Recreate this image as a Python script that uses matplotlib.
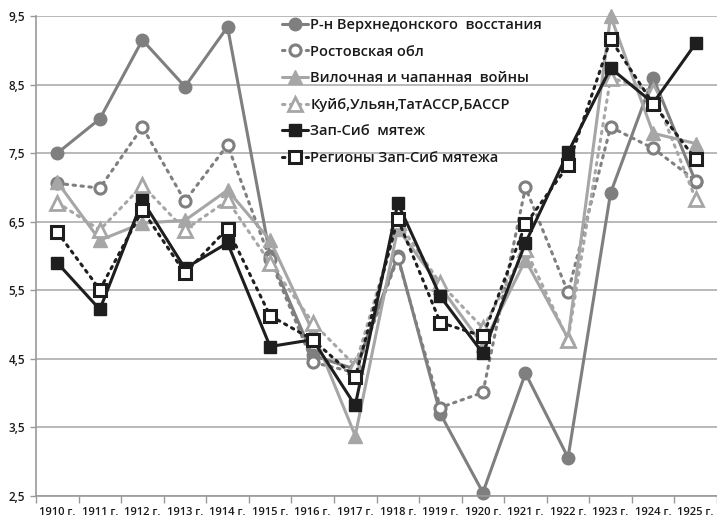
import matplotlib
matplotlib.use("Agg")
import matplotlib.pyplot as plt
import numpy as np

plt.rcParams["font.family"] = ["Open Sans", "DejaVu Sans"]
plt.rcParams["font.weight"] = "semibold"

years = ["1910 г.", "1911 г.", "1912 г.", "1913 г.", "1914 г.", "1915 г.", "1916 г.", "1917 г.",
         "1918 г.", "1919 г.", "1920 г.", "1921 г.", "1922 г.", "1923 г.", "1924 г.", "1925 г."]

verkhnedon = [7.5, 8.0, 9.15, 8.47, 9.34, 6.0, 4.55, 4.35, 6.0, 3.7, 2.55, 4.29, 3.06, 6.92, 8.6, 7.08]
rostov = [7.06, 6.99, 7.88, 6.8, 7.62, 5.95, 4.45, 4.3, 5.97, 3.79, 4.01, 7.0, 5.47, 7.88, 7.57, 7.1]
vilochnaya = [7.08, 6.23, 6.48, 6.52, 6.96, 6.23, 4.9, 3.38, 6.4, 5.55, 4.7, 5.94, 4.8, 9.5, 7.79, 7.64]
kuib = [6.78, 6.38, 7.03, 6.38, 6.81, 5.9, 5.03, 4.4, 6.5, 5.6, 4.95, 6.1, 4.78, 8.6, 8.4, 6.83]
zapsib = [5.9, 5.22, 6.81, 5.82, 6.19, 4.68, 4.78, 3.82, 6.77, 5.41, 4.58, 6.19, 7.51, 8.74, 8.23, 9.1]
zapsib_reg = [6.35, 5.51, 6.67, 5.75, 6.4, 5.13, 4.78, 4.23, 6.54, 5.03, 4.83, 6.46, 7.32, 9.16, 8.22, 7.41]

labels = ["Р-н Верхнедонского  восстания", "Ростовская обл", "Вилочная и чапанная  войны",
          "Куйб,Ульян,ТатАССР,БАССР", "Зап-Сиб  мятеж", "Регионы Зап-Сиб мятежа"]

DARK_GRAY = "#7f7f7f"
LIGHT_GRAY = "#a6a6a6"
BLACK = "#1e1e1e"
dots = (0, (0.8, 1.8))

series = [
    (verkhnedon, dict(color=DARK_GRAY, ls="-", marker="o", ms=9, mfc=DARK_GRAY, mec=DARK_GRAY)),
    (rostov, dict(color=DARK_GRAY, ls=dots, marker="o", ms=8, mfc="white", mec=DARK_GRAY, mew=2.2)),
    (vilochnaya, dict(color=LIGHT_GRAY, ls="-", marker="^", ms=10, mfc=LIGHT_GRAY, mec=LIGHT_GRAY)),
    (kuib, dict(color=LIGHT_GRAY, ls=dots, marker="^", ms=10, mfc="white", mec=LIGHT_GRAY, mew=2.0)),
    (zapsib, dict(color=BLACK, ls="-", marker="s", ms=8, mfc=BLACK, mec=BLACK)),
    (zapsib_reg, dict(color=BLACK, ls=dots, marker="s", ms=8, mfc="white", mec=BLACK, mew=2.2)),
]

fig = plt.figure(figsize=(7.17, 5.23), dpi=100)
ax = fig.add_axes([36 / 717, 1 - 496 / 523, 1 - 36 / 717, 480 / 523])

x = np.arange(len(years)) + 0.5
for (vals, style), lab in zip(series, labels):
    ax.plot(x, vals, lw=2.2, dash_capstyle="round", solid_capstyle="round",
            clip_on=False, label=lab, **style)

ax.set_xlim(0, len(years))
ax.set_ylim(2.5, 9.5)
yt = np.arange(2.5, 9.6, 1.0)
ax.set_yticks(yt)
ax.set_yticklabels([f"{v:.1f}".replace(".", ",") for v in yt])
ax.yaxis.grid(True, color="#b3b3b3", lw=1.3)
ax.set_axisbelow(True)

ax.set_xticks(np.arange(len(years) + 1))
ax.set_xticklabels([])
ax.set_xticks(x, minor=True)
ax.set_xticklabels(years, minor=True)
ax.tick_params(axis="x", which="major", direction="out", length=5, color="#999999", width=1)
ax.tick_params(axis="x", which="minor", length=0, pad=8, labelsize=8, labelcolor="#1a1a1a")
ax.tick_params(axis="y", direction="out", length=4, color="#999999", width=1,
               labelsize=8.5, labelcolor="#1a1a1a", pad=4)

for side in ["top", "right"]:
    ax.spines[side].set_visible(False)
for side in ["left", "bottom"]:
    ax.spines[side].set_color("#999999")
    ax.spines[side].set_linewidth(1.2)

ax.legend(loc="upper left", bbox_to_anchor=(282 / 717, 1 - 18 / 523),
          bbox_transform=fig.transFigure, frameon=False, fontsize=10.5,
          borderpad=0, borderaxespad=0, handlelength=1.8, handletextpad=0.15,
          labelspacing=0.86, labelcolor="#1a1a1a")

fig.savefig("out.png", dpi=100)
